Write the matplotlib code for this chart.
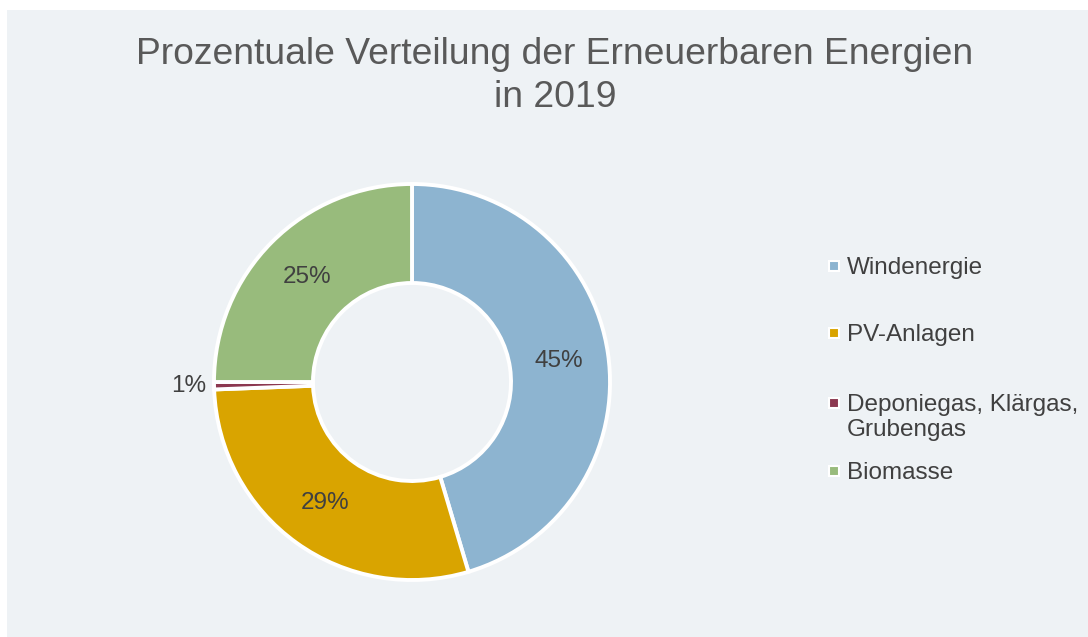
import matplotlib
matplotlib.use("Agg")
import matplotlib.pyplot as plt
from matplotlib.patches import Rectangle
import numpy as np

plt.rcParams['font.family'] = ['Liberation Sans', 'DejaVu Sans']

# data
labels = ['Windenergie', 'PV-Anlagen', 'Deponiegas, Klärgas,\nGrubengas', 'Biomasse']
shares = [45.4, 29.0, 0.6, 25.0]
colours = ['#8db4d0', '#d9a400', '#8c3850', '#98bb7c']
title = 'Prozentuale Verteilung der Erneuerbaren Energien\nin 2019'

W, H = 1088, 637
fig = plt.figure(figsize=(W / 100, H / 100), dpi=100)
fig.patch.set_facecolor('white')
# the grey-blue panel, white strip at left and top
fig.patches.append(Rectangle((7 / W, 0), 1 - 7 / W, 1 - 10 / H, transform=fig.transFigure,
                             facecolor='#eef2f5', edgecolor='none', zorder=-5))

fig.text(555 / W, 1 - 76 / H, title, ha='center', va='center', fontsize=26.8,
         color='#595959', linespacing=1.33)

# donut, centre (412,382), radius 200 px
cx, cy, r = 412, 382, 200
ax = fig.add_axes([(cx - r) / W, 1 - (cy + r) / H, 2 * r / W, 2 * r / H])
ax.set_facecolor('none')
wedges, texts, autotexts = ax.pie(shares, colors=colours, startangle=90, counterclock=False,
                                  radius=1, autopct=lambda p: '%.0f%%' % p, pctdistance=0.75,
                                  wedgeprops=dict(width=0.5, edgecolor='white', linewidth=2.8),
                                  textprops=dict(fontsize=17.5, color='#404040'))
ax.set_xlim(-1.01, 1.01)
ax.set_ylim(-1.01, 1.01)
ax.set_aspect('equal')
ax.axis('off')

# tiny slice: label goes outside the ring
w = wedges[2]
mid = np.deg2rad((w.theta1 + w.theta2) / 2)
autotexts[2].set_position((1.04 * np.cos(mid), 1.04 * np.sin(mid)))
autotexts[2].set_ha('right')
autotexts[2].set_va('center')

# legend, drawn by hand to get Excel's spacing
leg_y = [266, 333, 403, 471]
for lab, col, y in zip(labels, colours, leg_y):
    fig.patches.append(Rectangle((829 / W, 1 - (y + 5) / H), 10 / W, 10 / H,
                                 transform=fig.transFigure, facecolor=col,
                                 edgecolor='white', linewidth=1.5, zorder=3))
    fig.text(847 / W, 1 - (y - 9) / H, lab, ha='left', va='top', fontsize=17.5,
             color='#404040', linespacing=1.2)

fig.savefig('out.png', dpi=100, facecolor=fig.get_facecolor())
